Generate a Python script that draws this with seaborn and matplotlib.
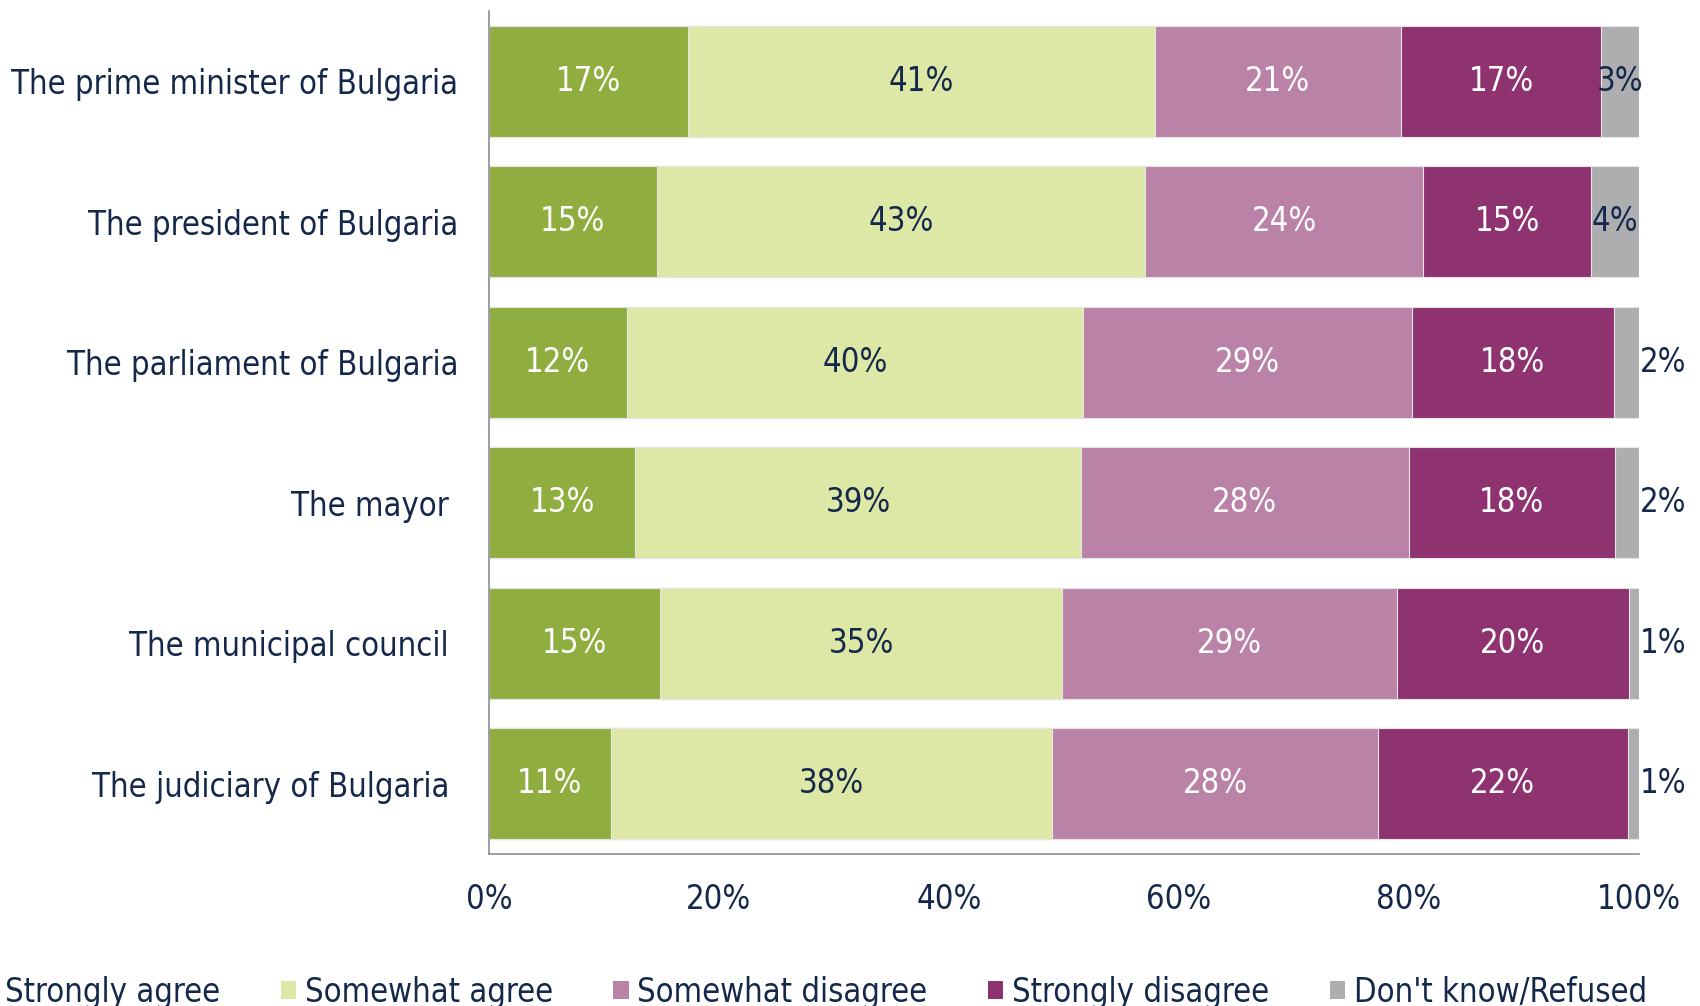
import numpy as np
import pandas as pd
import matplotlib
matplotlib.use("Agg")
import matplotlib.pyplot as plt
from matplotlib import font_manager
from matplotlib.patches import Patch
import seaborn as sns

# Survey responses per institution (percent of respondents)
categories = [
    "The prime minister of Bulgaria",
    "The president of Bulgaria",
    "The parliament of Bulgaria",
    "The mayor ",
    "The municipal council ",
    "The judiciary of Bulgaria ",
]
responses = ["Strongly agree", "Somewhat agree", "Somewhat disagree",
             "Strongly disagree", "Don't know/Refused"]
strongly_agree = [17.3, 14.6, 12.0, 12.7, 14.9, 10.6]
somewhat_agree = [40.6, 42.6, 39.7, 38.7, 35.0, 38.4]
somewhat_disagree = [21.4, 24.2, 28.6, 28.4, 29.1, 28.4]
strongly_disagree = [17.4, 14.6, 17.6, 17.9, 20.2, 21.7]
dont_know = [3.3, 4.2, 2.2, 2.1, 0.9, 1.0]
x_ticks = [0, 20, 40, 60, 80, 100]

colors = ["#8FAE3F", "#DDE8A6", "#BB82A7", "#8E3270", "#AEAEB0"]
label_colors = ["white", "#14284B", "white", "white", "#14284B"]
NAVY = "#14284B"
AXIS_GREY = "#8C8C96"

sns.set_style("white")
installed = {f.name for f in font_manager.fontManager.ttflist}
if "Liberation Sans Narrow" in installed:
    plt.rcParams["font.family"] = ["Liberation Sans Narrow", "DejaVu Sans"]
else:
    plt.rcParams["font.family"] = ["DejaVu Sans"]
    plt.rcParams["font.stretch"] = "condensed"
FS = 23.5

series = [strongly_agree, somewhat_agree, somewhat_disagree, strongly_disagree, dont_know]
raw = pd.DataFrame({r: s for r, s in zip(responses, series)}, index=categories)
share = raw.div(raw.sum(axis=1), axis=0) * 100
cum_end = share.cumsum(axis=1)
cum_start = cum_end - share

fig = plt.figure(figsize=(17, 10.06), dpi=100)
ax = fig.add_axes([489 / 1700, 1 - 854 / 1006, (1639 - 489) / 1700, (854 - 10.8) / 1006])

# 100% stacked bars: draw cumulative totals from the last layer backwards
for i in range(len(responses) - 1, -1, -1):
    layer = pd.DataFrame({"category": categories, "end": cum_end.iloc[:, i].values})
    sns.barplot(data=layer, x="end", y="category", orient="h", color=colors[i],
                saturation=1, width=0.79, ax=ax, edgecolor="#E6E6E6", linewidth=0.8,
                order=categories)

# Segment value labels
for r_idx, cat in enumerate(categories):
    for i, resp in enumerate(responses):
        v = raw.loc[cat, resp]
        w = share.loc[cat, resp]
        txt = f"{v:.0f}%"
        if w < 3:
            ax.text(100.1, r_idx, txt, ha="left", va="center", fontsize=FS, color=NAVY)
        else:
            ax.text(cum_start.loc[cat, resp] + w / 2, r_idx, txt, ha="center",
                    va="center", fontsize=FS, color=label_colors[i])

ax.set_xlim(0, 100)
ax.set_ylim(len(categories) - 0.5, -0.5)
ax.set_xticks(x_ticks)
ax.set_xticklabels([f"{t}%" for t in x_ticks])
ax.set_yticks(range(len(categories)))
ax.set_yticklabels(categories)
ax.set_yticks(np.arange(-0.5, len(categories)), minor=True)
ax.set_xlabel("")
ax.set_ylabel("")

ax.tick_params(axis="y", which="major", length=0, pad=22, labelsize=FS, labelcolor=NAVY)
ax.tick_params(axis="y", which="minor", length=6, width=1.2, color=AXIS_GREY, direction="out")
ax.tick_params(axis="x", which="major", length=7, width=1.2, color=AXIS_GREY,
               direction="out", pad=14, labelsize=FS, labelcolor=NAVY)

for side in ["top", "right"]:
    ax.spines[side].set_visible(False)
for side in ["left", "bottom"]:
    ax.spines[side].set_color(AXIS_GREY)
    ax.spines[side].set_linewidth(1.2)

handles = [Patch(facecolor=c, edgecolor="none", label=r) for c, r in zip(colors, responses)]
fig.legend(handles=handles, loc="center left", bbox_to_anchor=(-19 / 1700, 0.0135),
           bbox_transform=fig.transFigure, ncol=5, frameon=False, fontsize=FS,
           labelcolor=NAVY, handlelength=0.47, handleheight=0.47, handletextpad=0.27,
           columnspacing=1.85, borderpad=0, borderaxespad=0)

fig.savefig("out.png", dpi=100)
